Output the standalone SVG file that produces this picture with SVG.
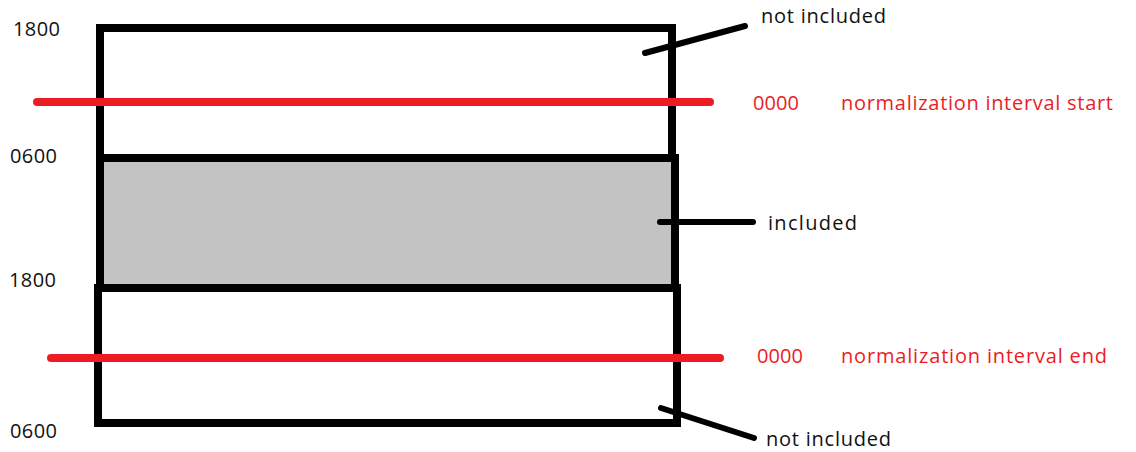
<svg xmlns="http://www.w3.org/2000/svg" width="1136" height="452" viewBox="0 0 1136 452">
<style>
.box{fill:none;stroke:#000;stroke-width:8}
.red{stroke:#ed1c24;stroke-width:8;stroke-linecap:round}
.lead{stroke:#000;stroke-width:6;stroke-linecap:round;fill:none}
.t{font-family:"Open Sans","Noto Sans",sans-serif;font-size:20px;fill:#111}
.r{font-family:"Open Sans","Noto Sans",sans-serif;font-size:20px;fill:#ed1c24}
</style>
<rect width="1136" height="452" fill="#fff"/>
<g id="box-top"><rect class="box" x="100" y="28" width="572" height="130"/></g>
<g id="box-mid"><rect class="box" x="100" y="158" width="575" height="130" style="fill:#c3c3c3"/></g>
<g id="box-bottom"><rect class="box" x="98" y="288" width="579" height="135"/></g>
<g id="interval-lines">
<line class="red" x1="37" y1="102" x2="710" y2="102"/>
<line class="red" x1="51" y1="358" x2="720" y2="358"/>
</g>
<g id="connectors">
<line class="lead" x1="645" y1="53" x2="745" y2="26"/>
<line class="lead" x1="660" y1="222" x2="753" y2="222"/>
<line class="lead" x1="661" y1="408" x2="754" y2="438"/>
</g>
<g id="time-labels">
<text class="t" x="13" y="36" textLength="47">1800</text>
<text class="t" x="10" y="163" textLength="47">0600</text>
<text class="t" x="9" y="287" textLength="47">1800</text>
<text class="t" x="10" y="438" textLength="47">0600</text>
</g>
<g id="label-not-included-top"><text class="t" x="761" y="23" textLength="125">not included</text></g>
<g id="label-start"><text class="r" x="753" y="110" textLength="46">0000</text><text class="r" x="841" y="110" textLength="272">normalization interval start</text></g>
<g id="label-included"><text class="t" x="768" y="230" textLength="89">included</text></g>
<g id="label-end"><text class="r" x="757" y="363" textLength="46">0000</text><text class="r" x="841" y="363" textLength="266">normalization interval end</text></g>
<g id="label-not-included-bottom"><text class="t" x="766" y="446" textLength="125">not included</text></g>
</svg>
